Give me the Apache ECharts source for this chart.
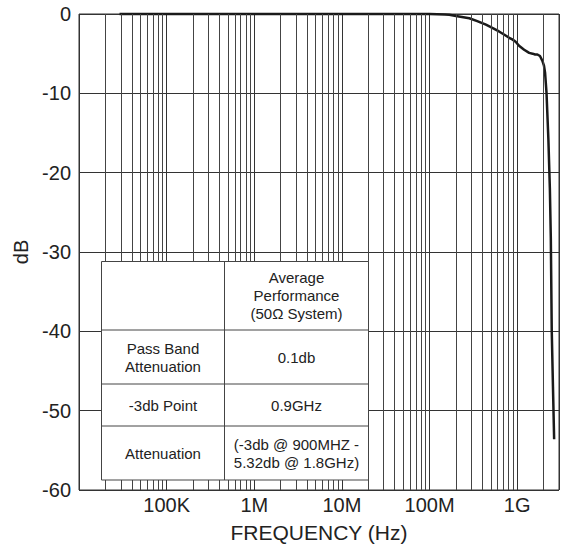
<!DOCTYPE html>
<html>
<head>
<meta charset="utf-8">
<script src="https://cdn.jsdelivr.net/npm/echarts@6/dist/echarts.min.js"></script>
<style>
  html, body { margin: 0; padding: 0; background: #fff; }
  #chart { width: 562px; height: 548px; }
</style>
</head>
<body>
<div id="chart"></div>
<script>
  // frequency response
  const freq = [29e3, 1e5, 1e6, 1e7, 1e8, 1.5e8, 1.68e8, 2e8, 2.84e8, 3.5e8, 4.4e8, 5.2e8, 6.2e8, 7e8, 8.1e8,
    8.8e8, 9.6e8, 1.05e9, 1.2e9, 1.37e9, 1.5e9, 1.6e9, 1.7e9, 1.82e9, 1.94e9, 2.02e9, 2.08e9, 2.16e9,
    2.27e9, 2.36e9, 2.42e9, 2.48e9, 2.56e9, 2.64e9]
  const gain = [0, 0, 0, 0, 0, -0.05, -0.1, -0.25, -0.54, -0.9, -1.35, -1.75, -2.2, -2.55, -3.0,
    -3.2, -3.5, -4.0, -4.5, -4.9, -5.0, -5.1, -5.1, -5.3, -5.9, -6.5, -7.4, -9.9,
    -15.8, -22, -28.3, -40, -47, -53.6]

  // axis ticks
  const xTickValues = [1e5, 1e6, 1e7, 1e8, 1e9]
  const xTickLabels = ['100K', '1M', '10M', '100M', '1G']
  const minorGrid = []
  for (let e = 4; e <= 8; e++) {
    for (let k = 2; k <= 9; k++) minorGrid.push(k * Math.pow(10, e))
  }
  minorGrid.push(2e9)

  // table
  const tableHeader = ['', 'Average\nPerformance\n(50Ω System)']
  const tableRows = [
    ['Pass Band\nAttenuation', '0.1db'],
    ['-3db Point', '0.9GHz'],
    ['Attenuation', '(-3db @ 900MHZ -\n5.32db @ 1.8GHz)']
  ]

  const font = "'Liberation Sans', Arial, sans-serif"
  const colX = [101.5, 224.5, 368.5]
  const rowY = [261.5, 330, 384, 426, 480]

  function buildTable() {
    const children = []
    children.push({
      type: 'rect',
      z: 100,
      shape: { x: colX[0], y: rowY[0], width: colX[2] - colX[0], height: rowY[4] - rowY[0] },
      style: { fill: '#fff', stroke: '#444', lineWidth: 1 }
    })
    children.push({
      type: 'line',
      z: 101,
      shape: { x1: colX[1], y1: rowY[0], x2: colX[1], y2: rowY[4] },
      style: { stroke: '#444', lineWidth: 1 }
    })
    for (let i = 1; i < 4; i++) {
      children.push({
        type: 'line',
        z: 101,
        shape: { x1: colX[0], y1: rowY[i], x2: colX[2], y2: rowY[i] },
        style: { stroke: '#444', lineWidth: 1 }
      })
    }
    const rows = [tableHeader].concat(tableRows)
    rows.forEach((row, r) => {
      const cy = (rowY[r] + rowY[r + 1]) / 2
      row.forEach((txt, c) => {
        if (!txt) return
        children.push({
          type: 'text',
          z: 102,
          style: {
            x: (colX[c] + colX[c + 1]) / 2,
            y: cy,
            text: txt,
            fill: '#222',
            font: '15px ' + font,
            lineHeight: 18,
            align: 'center',
            verticalAlign: 'middle'
          }
        })
      })
    })
    return children
  }

  const chart = echarts.init(document.getElementById('chart'), null, { renderer: 'svg' })
  chart.setOption({
    backgroundColor: '#fff',
    animation: false,
    grid: {
      left: 79,
      top: 14,
      right: 2,
      bottom: 55,
      show: true,
      borderColor: '#333',
      borderWidth: 1,
      containLabel: false
    },
    xAxis: {
      type: 'log',
      logBase: 10,
      min: 1e4,
      max: 3e9,
      name: 'FREQUENCY (Hz)',
      nameLocation: 'middle',
      nameGap: 32,
      nameTextStyle: { fontSize: 21, color: '#222', fontFamily: font },
      axisLine: { show: false },
      axisTick: { show: false },
      axisLabel: {
        margin: 5,
        fontSize: 20,
        color: '#222',
        fontFamily: font,
        formatter(v) {
          const i = xTickValues.findIndex(t => Math.abs(t - v) / t < 1e-6)
          return i >= 0 ? xTickLabels[i] : ''
        }
      },
      splitLine: { show: true, lineStyle: { color: '#333', width: 1 } }
    },
    yAxis: {
      type: 'value',
      min: -60,
      max: 0,
      interval: 10,
      name: 'dB',
      nameLocation: 'middle',
      nameRotate: 90,
      nameGap: 48,
      nameTextStyle: { fontSize: 20, color: '#222', fontFamily: font },
      axisLine: { show: false },
      axisTick: { show: false },
      axisLabel: { margin: 8, fontSize: 20, color: '#222', fontFamily: font },
      splitLine: { show: true, lineStyle: { color: '#333', width: 1 } }
    },
    series: [{
      type: 'line',
      z: 1,
      data: [],
      markLine: {
        silent: true,
        symbol: 'none',
        label: { show: false },
        lineStyle: { color: '#444', width: 1, type: 'solid' },
        data: minorGrid.map(f => ({ xAxis: f }))
      }
    }, {
      type: 'line',
      z: 3,
      clip: false,
      showSymbol: false,
      smooth: false,
      lineStyle: { color: '#1a1a1a', width: 2.5 },
      data: freq.map((f, i) => [f, gain[i]])
    }],
    graphic: [{
      type: 'group',
      z: 100,
      children: buildTable()
    }]
  })
</script>
</body>
</html>
